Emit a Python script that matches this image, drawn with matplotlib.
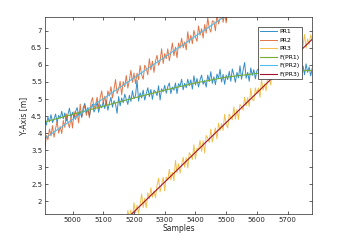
import numpy as np
import matplotlib
matplotlib.use("Agg")
from matplotlib import pyplot as plt

# sample positions of the raw traces (every 5th sample)
x_pr1 = np.arange(4910, 5781, 5)
x_pr2 = np.arange(4910, 5561, 5)
x_pr3 = np.arange(5170, 5781, 5)

# raw traces
pr1 = [4.38, 4.24, 4.47, 4.33, 4.54, 4.31, 4.42, 4.56, 4.31, 4.52, 4.43, 4.64, 4.42, 4.59, 4.36, 4.55, 4.73, 4.46, 4.61,
       4.44, 4.63, 4.75, 4.52, 4.63, 4.46, 4.75, 4.87, 4.60, 4.75, 4.50, 4.73, 4.85, 4.62, 4.73, 4.92, 4.61, 4.83, 4.74, 4.91,
       4.72, 4.95, 4.67, 4.88, 5.05, 4.76, 4.95, 4.85, 4.58, 5.07, 4.80, 5.03, 4.89, 5.14, 4.99, 4.84, 5.11, 4.93, 5.24, 5.01,
       5.10, 5.55, 4.94, 5.18, 5.03, 5.26, 4.97, 5.16, 5.33, 5.07, 5.28, 4.99, 5.26, 5.21, 5.10, 5.39, 4.97, 5.30, 5.21, 5.40,
       5.17, 5.36, 5.47, 5.16, 5.35, 5.26, 5.47, 5.16, 5.45, 5.37, 5.58, 5.27, 5.46, 5.33, 5.58, 5.39, 5.56, 5.29, 5.68, 5.41,
       5.60, 5.35, 5.56, 5.70, 5.43, 5.54, 5.35, 5.70, 5.51, 5.80, 5.46, 5.65, 5.42, 5.73, 5.60, 5.87, 5.50, 5.72, 5.43, 5.70,
       5.57, 5.81, 5.52, 5.88, 5.71, 5.49, 5.78, 5.62, 5.97, 5.58, 5.84, 6.07, 5.61, 5.78, 5.52, 5.91, 5.69, 5.86, 5.59, 5.83,
       5.89, 5.60, 5.96, 5.70, 5.81, 6.01, 5.65, 5.85, 5.58, 5.94, 5.76, 6.01, 5.65, 5.89, 5.58, 5.82, 5.98, 5.70, 5.93, 5.63,
       5.91, 5.67, 6.00, 5.78, 5.90, 5.64, 6.04, 5.75, 5.87, 5.97, 5.71, 6.03, 5.78, 5.94, 5.68, 5.90]

pr2 = [3.55, 3.93, 3.81, 4.12, 3.92, 4.22, 3.88, 4.14, 4.34, 4.00, 4.19, 3.99, 4.37, 4.17, 4.56, 4.31, 4.16, 4.47, 4.15, 4.63,
       4.40, 4.61, 4.30, 4.85, 4.48, 4.66, 4.82, 4.52, 4.72, 4.45, 4.89, 5.04, 4.74, 4.83, 5.05, 4.72, 5.03, 5.24, 4.87, 5.08,
       4.83, 5.24, 5.09, 5.36, 5.03, 5.28, 5.57, 5.16, 5.29, 5.52, 5.12, 5.51, 5.36, 5.69, 5.32, 5.55, 5.84, 5.49, 5.76, 5.45,
       5.76, 5.57, 5.98, 5.71, 5.58, 5.99, 5.90, 5.71, 6.18, 5.85, 6.11, 5.78, 6.11, 6.28, 5.99, 6.12, 6.47, 6.04, 6.33, 6.18,
       6.47, 6.12, 6.37, 6.64, 6.27, 6.52, 6.21, 6.64, 6.49, 6.78, 6.50, 6.67, 6.44, 6.97, 6.64, 6.87, 6.62, 7.01, 6.82, 6.69,
       7.14, 6.87, 7.06, 6.79, 7.18, 6.93, 7.38, 7.07, 6.96, 7.29, 7.27, 7.00, 7.47, 7.20, 7.35, 7.62, 7.25, 7.50, 7.23, 7.62,
       7.45, 7.76, 7.41, 7.64, 7.91, 7.54, 7.79, 7.52, 7.91, 7.70, 8.06]

pr3 = [1.50, 1.36, 1.73, 1.53, 1.75, 1.44, 1.96, 1.66, 1.89, 1.65, 1.90, 2.22, 1.82, 2.09, 1.81, 2.25, 2.08, 2.40, 2.12, 2.31,
       2.11, 2.47, 2.68, 2.28, 2.48, 2.71, 2.31, 2.71, 2.62, 2.94, 2.63, 2.85, 2.61, 3.20, 2.84, 3.10, 2.83, 3.07, 3.29, 3.00,
       3.28, 2.98, 3.43, 3.35, 3.23, 3.66, 3.24, 3.56, 3.51, 3.79, 3.46, 3.78, 3.42, 3.93, 3.85, 3.73, 4.12, 3.74, 3.96, 4.15,
       3.83, 4.29, 4.08, 4.28, 4.08, 4.55, 4.27, 4.15, 4.56, 4.46, 4.39, 4.77, 4.41, 4.70, 4.40, 4.84, 4.79, 4.67, 5.05, 4.80,
       5.04, 4.78, 5.31, 4.99, 4.95, 5.32, 5.16, 5.32, 5.05, 5.57, 5.26, 5.44, 5.24, 5.65, 5.61, 5.41, 5.86, 5.58, 5.68, 5.95,
       5.65, 5.89, 6.10, 5.74, 6.06, 5.95, 6.33, 5.97, 6.16, 5.96, 6.39, 6.23, 6.43, 6.20, 6.64, 6.34, 6.55, 6.89, 6.49, 6.76,
       6.60, 6.88, 6.73]

# fitted curves
fx1 = [4910, 5000, 5100, 5200, 5300, 5400, 5500, 5600, 5700, 5780]
f1 = [4.33, 4.55, 4.79, 5.03, 5.26, 5.47, 5.64, 5.75, 5.81, 5.84]
fx2 = [4910, 5600]
f2 = [3.85, 8.06]
fx3 = [5150, 5780]
f3 = [1.26, 6.75]

labels = ['PR1', 'PR2', 'PR3', 'F(PR1)', 'F(PR2)', 'F(PR3)']
colors = ['#0072BD', '#D95319', '#EDB120', '#77AC30', '#4DBEEE', '#A2142F']

fig = plt.figure(figsize=(3.45, 2.41), dpi=100)
ax = fig.add_axes([0.13, 0.112, 0.775, 0.817])

ax.plot(x_pr1, pr1, color=colors[0], lw=0.7, alpha=0.8, label=labels[0])
ax.plot(x_pr2, pr2, color=colors[1], lw=0.7, alpha=0.8, label=labels[1])
ax.plot(x_pr3, pr3, color=colors[2], lw=0.7, alpha=0.8, label=labels[2])
ax.plot(fx1, f1, color=colors[3], lw=0.8, label=labels[3])
ax.plot(fx2, f2, color=colors[4], lw=0.8, label=labels[4])
ax.plot(fx3, f3, color=colors[5], lw=0.8, label=labels[5])

ax.set_xlim(4910, 5780)
ax.set_ylim(1.63, 7.4)
ax.set_xticks(np.arange(5000, 5701, 100))
ax.set_yticks(np.arange(2, 7.01, 0.5))
ax.set_yticklabels(['2', '2.5', '3', '3.5', '4', '4.5', '5', '5.5', '6', '6.5', '7'])

for s in ax.spines.values():
    s.set_color('#262626')
    s.set_linewidth(0.5)
ax.tick_params(direction='in', length=2, width=0.5, labelsize=5, colors='#262626',
               top=True, right=True, pad=2)
ax.set_xlabel('Samples', fontsize=5.5, color='#262626', labelpad=1)
ax.set_ylabel('Y-Axis [m]', fontsize=5.5, color='#262626', labelpad=2)

leg = ax.legend(loc='upper right', bbox_to_anchor=(0.972, 0.967), fontsize=4.5,
                fancybox=False, framealpha=1, edgecolor='#262626', handlelength=2.7,
                borderpad=0.35, labelspacing=0.5, handletextpad=0.3)
leg.get_frame().set_linewidth(0.5)

fig.savefig('out.png', dpi=100)
